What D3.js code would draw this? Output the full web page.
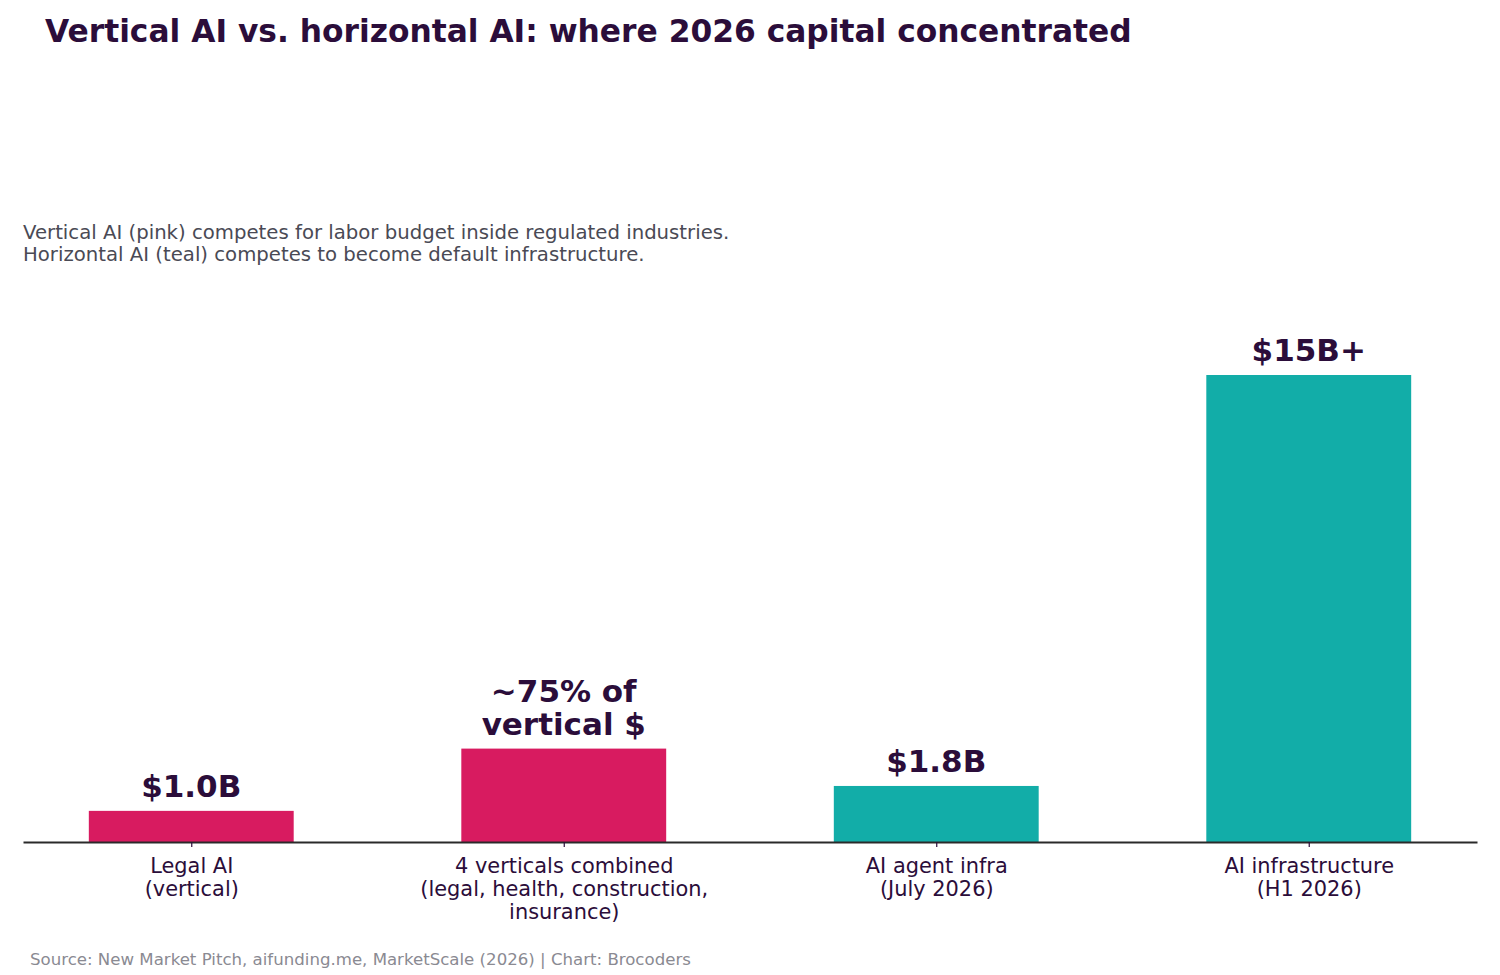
<!DOCTYPE html>
<html>
<head>
<meta charset="utf-8">
<script src="https://cdn.jsdelivr.net/npm/d3@7"></script>
<style>
  body { margin: 0; background: #fff; }
  svg, svg text { font-family: "DejaVu Sans", sans-serif; }
</style>
</head>
<body>
<svg id="chart" width="1500" height="975"></svg>
<script>
'use strict';

// data
var categories = [
  ['Legal AI', '(vertical)'],
  ['4 verticals combined', '(legal, health, construction,', 'insurance)'],
  ['AI agent infra', '(July 2026)'],
  ['AI infrastructure', '(H1 2026)']
];
var values = [1.0, 3.0, 1.8, 15];
var valueLabels = [['$1.0B'], ['~75% of', 'vertical $'], ['$1.8B'], ['$15B+']];
var groups = ['vertical', 'vertical', 'horizontal', 'horizontal'];

var colors = { vertical: '#D81B60', horizontal: '#12ADA8' };
var ink = '#2B0D3A';

var svg = d3.select('#chart');
var idx = d3.range(categories.length);

var x = d3.scalePoint()
  .domain(idx)
  .range([23, 1477])
  .padding(0.4517);
var barW = x.step() * 0.55;

var y = d3.scaleLinear()
  .domain([0, 15])
  .range([842, 375]);

// title + subtitle
svg.append('text')
  .attr('x', 45).attr('y', 42)
  .attr('font-size', 31.3).attr('font-weight', 'bold')
  .attr('fill', ink)
  .text('Vertical AI vs. horizontal AI: where 2026 capital concentrated');

var sub = svg.append('text')
  .attr('x', 23).attr('y', 239)
  .attr('font-size', 19.7).attr('fill', '#4A4A55');
sub.append('tspan').attr('x', 23).text('Vertical AI (pink) competes for labor budget inside regulated industries.');
sub.append('tspan').attr('x', 23).attr('dy', 22).text('Horizontal AI (teal) competes to become default infrastructure.');

// bars
svg.append('g').selectAll('rect')
  .data(idx)
  .join('rect')
  .attr('x', function(i) { return x(i) - barW / 2; })
  .attr('y', function(i) { return y(values[i]); })
  .attr('width', barW)
  .attr('height', function(i) { return y(0) - y(values[i]); })
  .attr('fill', function(i) { return colors[groups[i]]; });

// value labels above bars
svg.append('g').selectAll('text')
  .data(idx)
  .join('text')
  .attr('text-anchor', 'middle')
  .attr('font-size', 31).attr('font-weight', 'bold')
  .attr('fill', ink)
  .each(function(i) {
    var lines = valueLabels[i];
    var base = y(values[i]) - 14 - (lines.length - 1) * 33;
    d3.select(this).selectAll('tspan')
      .data(lines)
      .join('tspan')
      .attr('x', x(i))
      .attr('y', function(d, k) { return base + k * 33; })
      .text(function(d) { return d; });
  });

// x axis
var xAxis = d3.axisBottom(x).tickSize(5).tickSizeOuter(0).tickPadding(0).tickFormat('');
var gx = svg.append('g')
  .attr('transform', 'translate(0,' + y(0) + ')')
  .attr('font-family', '"DejaVu Sans", sans-serif')
  .call(xAxis);
gx.select('.domain').attr('stroke', '#2A2A2A').attr('stroke-width', 1.8);
gx.selectAll('.tick line').attr('stroke', ink).attr('stroke-width', 1.2);

gx.selectAll('.tick').append('text')
  .attr('text-anchor', 'middle')
  .attr('font-size', 20.9).attr('fill', ink)
  .each(function(i) {
    d3.select(this).selectAll('tspan')
      .data(categories[i])
      .join('tspan')
      .attr('x', 0)
      .attr('y', function(d, k) { return 31 + k * 23; })
      .text(function(d) { return d; });
  });

// source
svg.append('text')
  .attr('x', 30).attr('y', 965)
  .attr('font-size', 16.6).attr('fill', '#8A8A92')
  .text('Source: New Market Pitch, aifunding.me, MarketScale (2026) | Chart: Brocoders');
</script>
</body>
</html>
